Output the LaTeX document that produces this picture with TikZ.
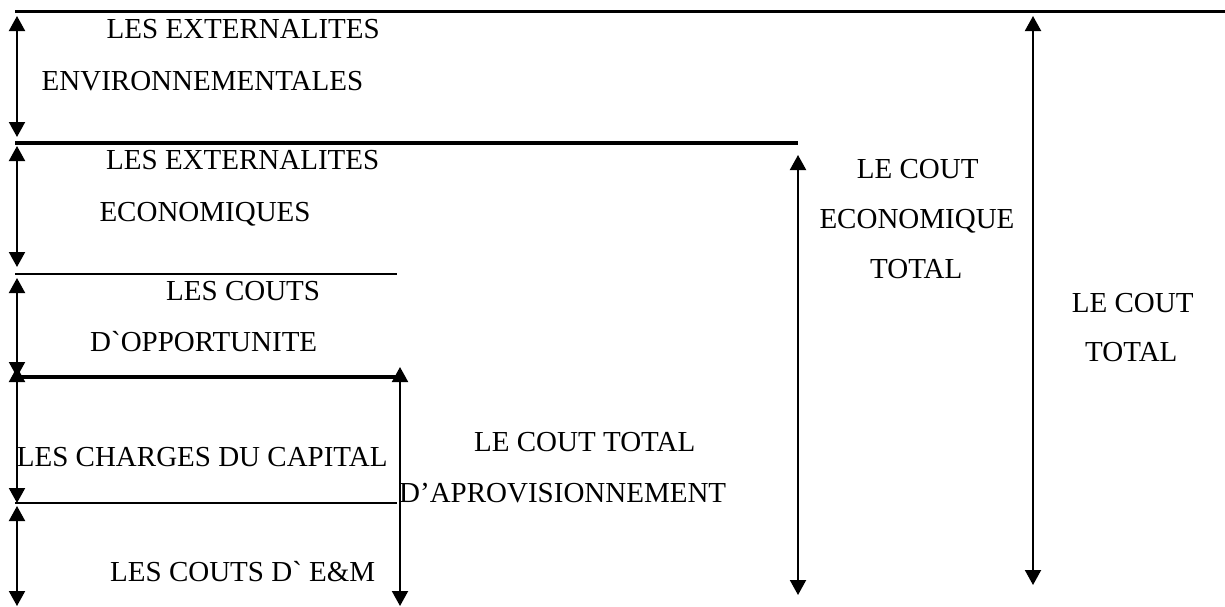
\documentclass[tikz,border=0pt]{standalone}
\usepackage{fontspec}
\setmainfont{Liberation Serif}
\usetikzlibrary{arrows.meta}

\begin{document}
\begin{tikzpicture}[x=1pt, y=-1pt,
    lbl/.style={anchor=base west, inner sep=0pt, font=\fontsize{29}{35}\selectfont},
    span/.style={{Triangle[width=16pt,length=15pt]}-{Triangle[width=16pt,length=15pt]}, line width=2pt},
    boldrule/.style={line width=3.6pt},
    thinrule/.style={line width=1.8pt},
  ]
    \useasboundingbox (0,0) rectangle (1225,606);
    % separating rules
    \coordinate (r1w) at (15,11.5);  \coordinate (r1e) at (1225,11.5);
    \coordinate (r2w) at (15,143);   \coordinate (r2e) at (798,143);
    \coordinate (r3w) at (15,274);   \coordinate (r3e) at (397,274);
    \coordinate (r4w) at (15,377);   \coordinate (r4e) at (401,377);
    \coordinate (r5w) at (15,503);   \coordinate (r5e) at (397,503);
    \draw[boldrule] (r1w) -- (r1e);
    \draw[boldrule] (r2w) -- (r2e);
    \draw[thinrule] (r3w) -- (r3e);
    \draw[boldrule] (r4w) -- (r4e);
    \draw[thinrule] (r5w) -- (r5e);
    % arrow ends
    \coordinate (env-t) at (17,16);   \coordinate (env-b) at (17,137);
    \coordinate (eco-t) at (17,146);  \coordinate (eco-b) at (17,267);
    \coordinate (opp-t) at (17,278);  \coordinate (opp-b) at (17,377);
    \coordinate (cap-t) at (17,367);  \coordinate (cap-b) at (17,503);
    \coordinate (em-t) at (17,506);   \coordinate (em-b) at (17,606);
    \coordinate (apr-t) at (400,367); \coordinate (apr-b) at (400,606);
    \coordinate (cet-t) at (798,155); \coordinate (cet-b) at (798,595);
    \coordinate (tot-t) at (1033,16); \coordinate (tot-b) at (1033,585);
    \draw[span] (env-t) -- (env-b);
    \draw[span] (eco-t) -- (eco-b);
    \draw[span] (opp-t) -- (opp-b);
    \draw[span] (cap-t) -- (cap-b);
    \draw[span] (em-t) -- (em-b);
    \draw[span] (apr-t) -- (apr-b);
    \draw[span] (cet-t) -- (cet-b);
    \draw[span] (tot-t) -- (tot-b);
    % labels
    \node[lbl] (env1) at (106.5,38.3) {LES EXTERNALITES};
    \node[lbl] (env2) at (41.5,90) {ENVIRONNEMENTALES};
    \node[lbl] (eco1) at (106,169.5) {LES EXTERNALITES};
    \node[lbl] (eco2) at (99.3,221.5) {ECONOMIQUES};
    \node[lbl] (opp1) at (166,300) {LES COUTS};
    \node[lbl] (opp2) at (90,351.7) {D\textasciigrave OPPORTUNITE};
    \node[lbl] (cap) at (16.7,466.7) {LES CHARGES DU CAPITAL};
    \node[lbl] (em) at (110,581.7) {LES COUTS D\textasciigrave{} E\&M};
    \node[lbl] (apr1) at (474,451.7) {LE COUT TOTAL};
    \node[lbl] (apr2) at (399,502.7) {D'APROVISIONNEMENT};
    \node[lbl] (cet1) at (856.7,178.3) {LE COUT};
    \node[lbl] (cet2) at (819.3,228.3) {ECONOMIQUE};
    \node[lbl] (cet3) at (870,278.3) {TOTAL};
    \node[lbl] (tot1) at (1071.7,312) {LE COUT};
    \node[lbl] (tot2) at (1085,361.7) {TOTAL};
\end{tikzpicture}
\end{document}
